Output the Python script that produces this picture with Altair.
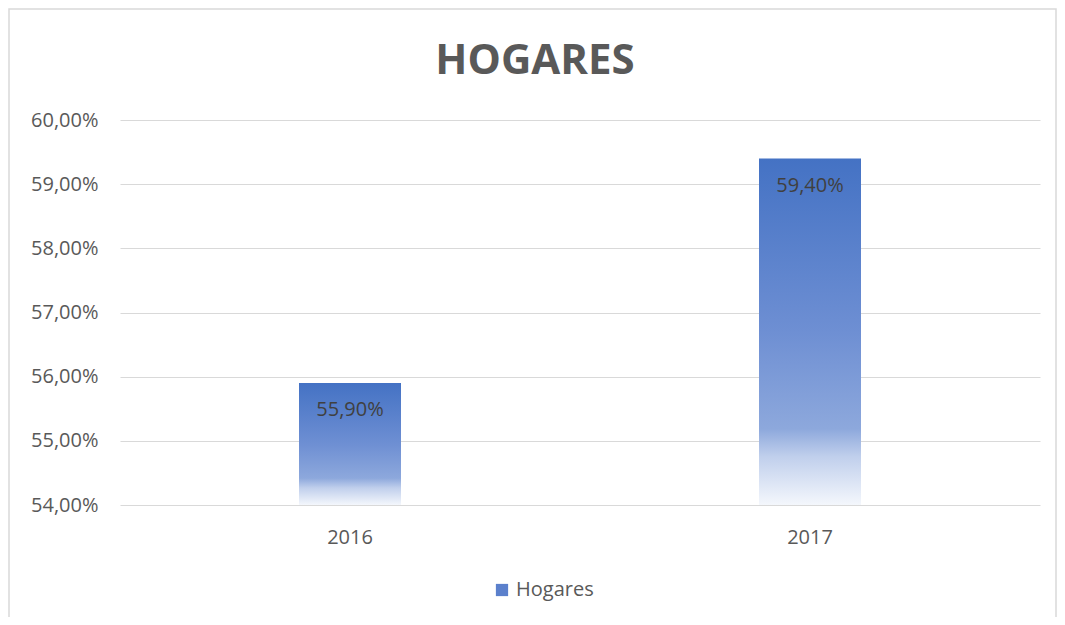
import altair as alt
import pandas as pd

years = ["2016", "2017"]
values = [55.9, 59.4]
series = ["Hogares", "Hogares"]
y_ticks = [54, 55, 56, 57, 58, 59, 60]

df = pd.DataFrame({"year": years, "value": values, "serie": series})

FONT = "Open Sans"
GRAY = "#595959"

grad = alt.Gradient(
    gradient="linear",
    stops=[
        alt.GradientStop(color="#4472C4", offset=0),
        alt.GradientStop(color="#6E8FD3", offset=0.5),
        alt.GradientStop(color="#8DA8DC", offset=0.78),
        alt.GradientStop(color="#C0CFEC", offset=0.86),
        alt.GradientStop(color="#F4F7FC", offset=1),
    ],
    x1=0, x2=0, y1=0, y2=1,
)

x_enc = alt.X(
    "year:N",
    title=None,
    scale=alt.Scale(paddingInner=0, paddingOuter=0),
    axis=alt.Axis(labelAngle=0, ticks=False, domain=False, labelFont=FONT,
                  labelFontSize=20, labelColor=GRAY, labelPadding=22, grid=False),
)
y_scale = alt.Scale(domain=[54, 60], zero=False, nice=False)
y_enc = alt.Y(
    "value:Q",
    title=None,
    scale=y_scale,
    axis=alt.Axis(values=y_ticks, ticks=False, domain=False, labelFont=FONT,
                  labelFontSize=20, labelColor=GRAY, labelPadding=22,
                  gridColor="#D9D9D9", gridWidth=1,
                  labelExpr="replace(format(datum.value, '.2f'), '.', ',') + '%'"),
)

border = alt.Chart(pd.DataFrame({"k": [0]})).mark_rect(
    fill=None, stroke="#D9D9D9", strokeWidth=1.5
).encode(
    x=alt.value(-111), x2=alt.value(936), y=alt.value(-111), y2=alt.value(530)
)

bars = alt.Chart(df).mark_bar(size=102, color=grad).encode(
    x=x_enc, y=y_enc, y2=alt.datum(54)
)

legend_layer = alt.Chart(df).mark_square(size=0, opacity=0).encode(
    x=alt.X("year:N"),
    y=alt.Y("value:Q"),
    color=alt.Color(
        "serie:N",
        scale=alt.Scale(range=["#5B80CC"]),
        legend=alt.Legend(
            title=None, orient="none", legendX=372, legendY=460,
            symbolType="square", symbolSize=150, symbolOpacity=1,
            labelFont=FONT, labelFontSize=20, labelColor=GRAY,
            symbolStrokeWidth=0,
        ),
    ),
)

labels = alt.Chart(df).mark_text(
    baseline="top", dy=17, font=FONT, fontSize=20, color="#404040"
).encode(
    x="year:N",
    y="value:Q",
    text=alt.Text("label:N"),
).transform_calculate(
    label="replace(format(datum.value, '.2f'), '.', ',') + '%'"
)

chart = alt.layer(border, bars, labels, legend_layer).properties(
    width=920,
    height=385,
    background="white",
    title=alt.Title("HOGARES", font=FONT, fontSize=42, fontWeight="bold",
                    color=GRAY, anchor="middle", dx=-45, offset=-108,
                    baseline="alphabetic"),
    autosize=alt.AutoSizeParams(type="none"),
    padding={"left": 112, "top": 112, "right": 17, "bottom": 112},
).configure_view(stroke=None)

chart.save("out.html", embed_options={"renderer": "svg", "actions": False})
